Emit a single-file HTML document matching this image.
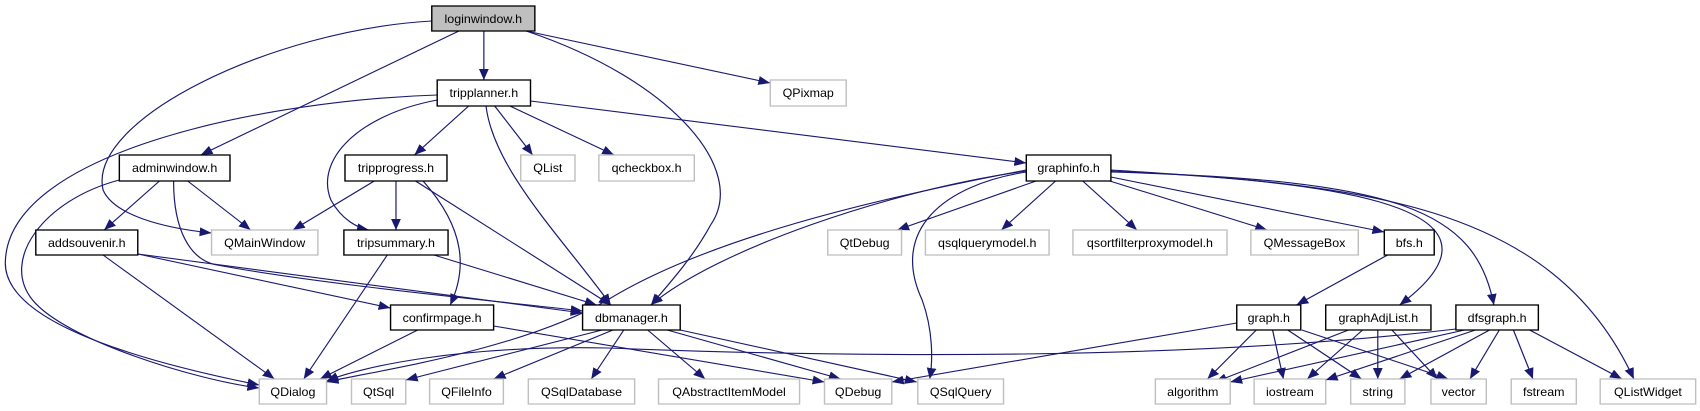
<!DOCTYPE html>
<html><head><meta charset="utf-8"><style>
html,body{margin:0;padding:0;background:#fff;width:1700px;height:411px;overflow:hidden}
svg{display:block}
text{font-family:"Liberation Sans",sans-serif;font-size:11.5px;fill:#000;text-anchor:middle}
.n{fill:#fff;stroke:#000;stroke-width:1.3}
.g{fill:#fff;stroke:#bfbfbf;stroke-width:1.3}
.e{fill:none;stroke:#191970;stroke-width:1.1}
</style></head><body>
<svg width="1700" height="411" viewBox="0 0 1567 411" preserveAspectRatio="none">
<defs><marker id="a" markerUnits="userSpaceOnUse" markerWidth="12" markerHeight="10" refX="11" refY="5" orient="auto"><path d="M0,0.5 L11,5 L0,9.5 z" fill="#191970"/></marker></defs>
<g class="e" marker-end="url(#a)">
<path d="M446,31 L446,80"/>
<path d="M485,31 L710,83"/>
<path d="M423,31 L185,155"/>
<path d="M398,21 C250,30 80,120 95,190 C105,215 150,228 195,233"/>
<path d="M485,31 C620,80 690,170 655,225 C640,255 620,280 600,305"/>
<path d="M432,106 L382,155"/>
<path d="M456,106 L491,155"/>
<path d="M470,106 L566,155"/>
<path d="M489,101 L946,163"/>
<path d="M403,100 C330,115 290,160 305,200 C315,220 330,228 340,230"/>
<path d="M448,106 C455,170 520,240 563,305"/>
<path d="M403,95 C250,100 10,150 5,260 C0,330 170,370 239,385"/>
<path d="M173,181 L231,230"/>
<path d="M147,181 L96,230"/>
<path d="M160,181 C160,230 175,260 200,265 C300,285 450,300 537,311"/>
<path d="M110,180 C40,200 0,260 30,300 C60,340 180,380 239,388"/>
<path d="M345,181 L270,230"/>
<path d="M365,181 L365,230"/>
<path d="M383,181 L563,305"/>
<path d="M390,181 C430,230 430,270 415,305"/>
<path d="M127,254 L360,308"/>
<path d="M127,254 L537,313"/>
<path d="M95,255 L253,379"/>
<path d="M357,255 L280,379"/>
<path d="M400,255 L550,305"/>
<path d="M385,330 L295,379"/>
<path d="M455,326 L760,382"/>
<path d="M555,330 L374,380"/>
<path d="M565,330 L455,379"/>
<path d="M575,330 L545,379"/>
<path d="M597,330 L650,379"/>
<path d="M615,330 L775,379"/>
<path d="M627,330 L845,382"/>
<path d="M946,171 C820,190 660,250 600,305"/>
<path d="M946,170 C800,200 650,240 560,300 C480,350 350,370 301,382"/>
<path d="M955,181 L827,230"/>
<path d="M973,181 L923,230"/>
<path d="M998,181 L1048,230"/>
<path d="M1020,180 L1168,230"/>
<path d="M1024,177 L1276,232"/>
<path d="M946,172 C870,185 820,230 850,300 C860,330 860,360 857,379"/>
<path d="M1024,171 C1200,180 1420,200 1290,305"/>
<path d="M1024,172 C1290,180 1360,210 1377,305"/>
<path d="M1024,170 C1250,185 1430,200 1506,379"/>
<path d="M1279,255 L1195,305"/>
<path d="M1140,323 L822,382"/>
<path d="M1158,330 L1113,379"/>
<path d="M1173,330 L1183,379"/>
<path d="M1187,330 L1255,379"/>
<path d="M1200,330 L1335,379"/>
<path d="M1243,330 L1120,382"/>
<path d="M1256,330 L1205,379"/>
<path d="M1270,330 L1270,379"/>
<path d="M1283,330 L1325,379"/>
<path d="M1342,329 C1100,360 800,358 560,348 C420,345 330,368 301,381"/>
<path d="M1350,330 L1134,382"/>
<path d="M1360,330 L1222,380"/>
<path d="M1373,330 L1290,379"/>
<path d="M1382,330 L1355,379"/>
<path d="M1395,330 L1413,379"/>
<path d="M1410,330 L1495,379"/>
</g>
<rect x="398" y="6" width="95" height="25" fill="#bfbfbf" stroke="#000" stroke-width="1.3"/><text x="445.5" y="23">loginwindow.h</text>
<rect class="n" x="403" y="80" width="86" height="26"/><text x="446" y="97">tripplanner.h</text>
<rect class="g" x="710" y="80" width="70" height="26"/><text x="745" y="97">QPixmap</text>
<rect class="n" x="110" y="155" width="102" height="26"/><text x="161" y="172">adminwindow.h</text>
<rect class="n" x="318" y="155" width="94" height="26"/><text x="365" y="172">tripprogress.h</text>
<rect class="g" x="480" y="155" width="50" height="26"/><text x="505" y="172">QList</text>
<rect class="g" x="552" y="155" width="88" height="26"/><text x="596" y="172">qcheckbox.h</text>
<rect class="n" x="946" y="155" width="78" height="26"/><text x="985" y="172">graphinfo.h</text>
<rect class="n" x="33" y="230" width="94" height="25"/><text x="80" y="247">addsouvenir.h</text>
<rect class="g" x="195" y="230" width="98" height="25"/><text x="244" y="247">QMainWindow</text>
<rect class="n" x="317" y="230" width="96" height="25"/><text x="365" y="247">tripsummary.h</text>
<rect class="g" x="763" y="230" width="68" height="25"/><text x="797" y="247">QtDebug</text>
<rect class="g" x="853" y="230" width="114" height="25"/><text x="910" y="247">qsqlquerymodel.h</text>
<rect class="g" x="989" y="230" width="142" height="25"/><text x="1060" y="247">qsortfilterproxymodel.h</text>
<rect class="g" x="1153" y="230" width="99" height="25"/><text x="1202.5" y="247">QMessageBox</text>
<rect class="n" x="1276" y="230" width="46" height="25"/><text x="1299" y="247">bfs.h</text>
<rect class="n" x="360" y="305" width="95" height="25"/><text x="407.5" y="322">confirmpage.h</text>
<rect class="n" x="537" y="305" width="90" height="25"/><text x="582" y="322">dbmanager.h</text>
<rect class="n" x="1140" y="305" width="59" height="25"/><text x="1169.5" y="322">graph.h</text>
<rect class="n" x="1222" y="305" width="97" height="25"/><text x="1270.5" y="322">graphAdjList.h</text>
<rect class="n" x="1342" y="305" width="76" height="25"/><text x="1380" y="322">dfsgraph.h</text>
<rect class="g" x="239" y="379" width="62" height="25"/><text x="270" y="396">QDialog</text>
<rect class="g" x="324" y="379" width="50" height="25"/><text x="349" y="396">QtSql</text>
<rect class="g" x="396" y="379" width="68" height="25"/><text x="430" y="396">QFileInfo</text>
<rect class="g" x="487" y="379" width="98" height="25"/><text x="536" y="396">QSqlDatabase</text>
<rect class="g" x="607" y="379" width="130" height="25"/><text x="672" y="396">QAbstractItemModel</text>
<rect class="g" x="760" y="379" width="62" height="25"/><text x="791" y="396">QDebug</text>
<rect class="g" x="846" y="379" width="79" height="25"/><text x="885.5" y="396">QSqlQuery</text>
<rect class="g" x="1065" y="379" width="69" height="25"/><text x="1099.5" y="396">algorithm</text>
<rect class="g" x="1156" y="379" width="66" height="25"/><text x="1189" y="396">iostream</text>
<rect class="g" x="1245" y="379" width="50" height="25"/><text x="1270" y="396">string</text>
<rect class="g" x="1319" y="379" width="51" height="25"/><text x="1344.5" y="396">vector</text>
<rect class="g" x="1393" y="379" width="60" height="25"/><text x="1423" y="396">fstream</text>
<rect class="g" x="1475" y="379" width="88" height="25"/><text x="1519" y="396">QListWidget</text>
</svg>
</body></html>
